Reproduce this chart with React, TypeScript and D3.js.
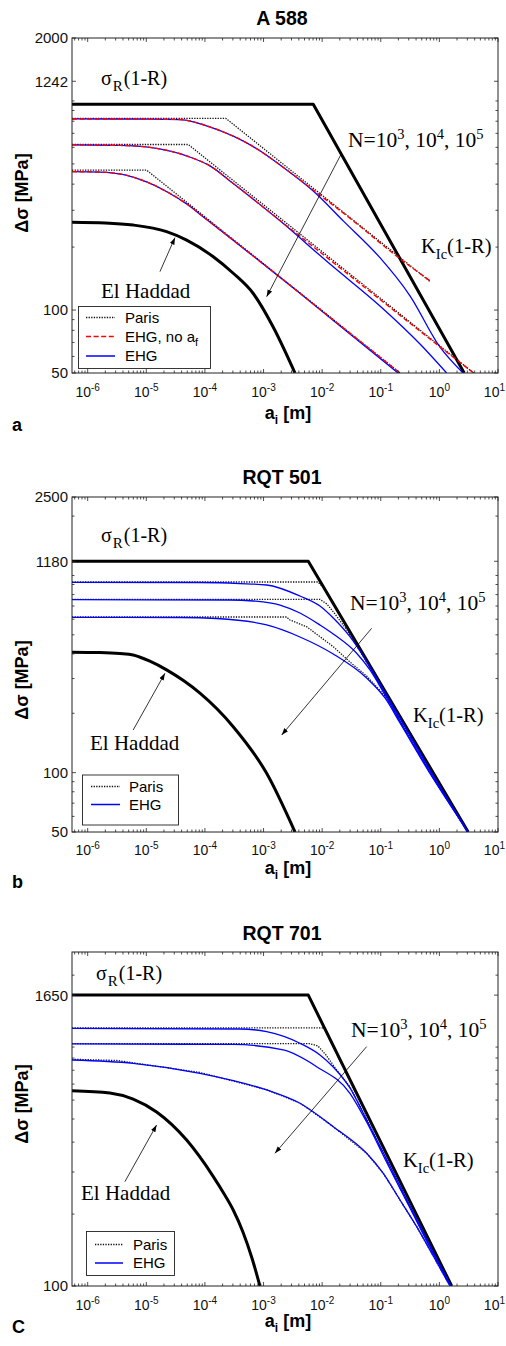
import React from 'react';
import * as d3 from 'd3';

type Pt = [number, number];

const SANS = '"Liberation Sans", Arial, Helvetica, sans-serif';
const SERIF = '"Liberation Serif", "Times New Roman", Times, serif';

// Initial crack size a_i [m], shared by the three panels
const crackSizeRange: [number, number] = [5.4e-7, 10];
const crackSizeDecades = [-6, -5, -4, -3, -2, -1, 0, 1];

// ---------------- A 588 ----------------
const a588StressTicks = [50, 100, 1242, 2000];
const a588Limit: Pt[] = [[5.4e-7, 965], [7.05e-3, 965], [2.65, 50]];
const a588ElHaddad: Pt[] = [[5.4e-7, 263], [2e-6, 261], [5.97e-6, 255], [2.22e-5, 237], [4.88e-5, 216], [1.39e-4, 180], [3.04e-4, 150], [6.67e-4, 120], [1.46e-3, 83], [3.44e-3, 50]];
const a588Paris1: Pt[] = [[5.4e-7, 825], [2.28e-4, 825], [0.692, 137]];
const a588Paris2: Pt[] = [[5.4e-7, 619], [5.19e-5, 619], [3.85, 50]];
const a588Paris3: Pt[] = [[5.4e-7, 467], [1.01e-5, 467], [0.213, 50]];
const a588NoAf1: Pt[] = [[5.4e-7, 820], [1.15e-5, 819], [3.74e-5, 815], [1.39e-4, 741], [6.67e-4, 605], [2.48e-3, 468], [7.05e-3, 375], [3.4e-2, 267], [0.187, 181], [0.692, 138]];
const a588NoAf2: Pt[] = [[5.4e-7, 617], [3.54e-6, 613], [1.15e-5, 600], [4.88e-5, 546], [1.22e-4, 489], [3.04e-4, 403], [1.91e-3, 268], [1.36e-2, 173.7], [9.69e-2, 112.4], [0.692, 72.7], [3.85, 50]];
const a588NoAf3: Pt[] = [[5.4e-7, 459], [1.61e-6, 457], [4.31e-6, 443], [1.01e-5, 410], [2.53e-5, 361], [4.88e-5, 322], [1.07e-4, 271], [5.86e-4, 186.6], [4.18e-3, 120.3], [2.98e-2, 77.5], [0.213, 50]];
const a588Ehg1: Pt[] = [[5.4e-7, 820], [1.15e-5, 819], [3.74e-5, 815], [1.39e-4, 741], [6.67e-4, 605], [2.48e-3, 468], [7.05e-3, 371], [2.29e-2, 267], [9.69e-2, 178], [0.315, 117], [1.02, 66.6], [2.53, 50]];
const a588Ehg2: Pt[] = [[5.4e-7, 617], [3.54e-6, 613], [1.15e-5, 600], [4.88e-5, 546], [1.22e-4, 489], [3.04e-4, 403], [1.91e-3, 267], [1.36e-2, 166], [9.69e-2, 104.6], [0.467, 68.8], [1.33, 50]];
const a588Ehg3: Pt[] = [[5.4e-7, 459], [1.61e-6, 457], [4.31e-6, 443], [1.01e-5, 410], [2.53e-5, 361], [4.88e-5, 322], [1.07e-4, 271], [5.86e-4, 186.6], [4.18e-3, 120.3], [2.98e-2, 76.8], [0.197, 50]];

// ---------------- RQT 501 ----------------
const rqt501StressTicks = [50, 100, 1180, 2500];
const rqt501Limit: Pt[] = [[5.4e-7, 1180], [5.8e-3, 1180], [3.1, 50]];
const rqt501ElHaddad: Pt[] = [[5.4e-7, 408], [1.61e-6, 406.5], [3.54e-6, 402], [5.97e-6, 395], [1.15e-5, 367.5], [2.22e-5, 332], [4.3e-5, 293], [8.22e-5, 253], [3.04e-4, 171], [1.13e-3, 99.2], [3.44e-3, 50]];
const rqt501Paris1: Pt[] = [[5.4e-7, 926.5], [8.47e-3, 926.5], [1.074e-2, 863.7], [1.47e-2, 737.8], [2.45e-2, 567.3], [4.42e-2, 421.3], [9.69e-2, 284.9], [0.467, 128.8], [3.08, 50]];
const rqt501Paris2: Pt[] = [[5.4e-7, 757], [9.17e-3, 757], [1.208e-2, 716.5], [1.654e-2, 637.5], [2.65e-2, 528.9], [4.42e-2, 413.9], [9.69e-2, 278.3], [0.467, 125.8], [3.08, 50]];
const rqt501Paris3: Pt[] = [[5.4e-7, 615.6], [2.48e-3, 615.6], [2.82e-3, 594.4], [5.44e-3, 549.8], [9.17e-3, 489.2], [1.547e-2, 435.3], [2.98e-2, 364], [5.74e-2, 309.1], [0.118, 244.8], [0.213, 180.7], [0.692, 99.6], [3.08, 50]];
const rqt501Ehg1: Pt[] = [[5.4e-7, 923], [8.22e-5, 921], [3.95e-4, 910], [1.13e-3, 894.5], [4.18e-3, 786.6], [9.17e-3, 699.9], [1.547e-2, 608.4], [2.98e-2, 489.2], [5.03e-2, 390.4], [9.69e-2, 281.6], [0.213, 189.3], [0.692, 103.1], [3.08, 50]];
const rqt501Ehg2: Pt[] = [[5.4e-7, 753.5], [2.67e-4, 751], [6.67e-4, 742], [1.91e-3, 708], [4.18e-3, 645], [9.17e-3, 560.8], [1.547e-2, 504.9], [3.88e-2, 402.9], [6.54e-2, 331.6], [0.118, 247.7], [0.213, 182.8], [0.692, 100.7], [3.08, 50]];
const rqt501Ehg3: Pt[] = [[5.4e-7, 613.4], [3.74e-5, 612], [1.58e-4, 604.9], [1.13e-3, 560.8], [4.18e-3, 487.5], [1.547e-2, 399.6], [5.74e-2, 301.9], [0.118, 239.1], [0.213, 178.6], [0.692, 99], [3.08, 50]];

// ---------------- RQT 701 ----------------
const rqt701StressTicks = [100, 1650];
const rqt701Limit: Pt[] = [[5.4e-7, 1650], [5.8e-3, 1650], [1.62, 100]];
const rqt701ElHaddad: Pt[] = [[5.4e-7, 657], [2.39e-6, 643], [5.97e-6, 606], [1.5e-5, 535], [4.88e-5, 408], [1.39e-4, 287], [2.03e-4, 247.5], [3.04e-4, 208], [4.45e-4, 168.3], [6.34e-4, 131], [8.68e-4, 100]];
const rqt701Paris1: Pt[] = [[5.4e-7, 1204], [1.074e-2, 1204], [1.36e-2, 1071], [2.98e-2, 721], [0.213, 272], [1.578, 100]];
const rqt701Paris2: Pt[] = [[5.4e-7, 1033], [6.19e-3, 1033], [8.47e-3, 1011], [1.16e-2, 927], [1.77e-2, 802], [2.98e-2, 681], [5.74e-2, 500], [0.213, 257], [1.578, 100]];
const rqt701Paris3: Pt[] = [[5.4e-7, 889], [3.15e-6, 879], [8.22e-5, 783], [1.13e-3, 663], [4.18e-3, 583], [1.547e-2, 464.3], [5.74e-2, 359.3], [0.1104, 296.3], [0.213, 229.1], [0.41, 177.1], [0.787, 133.5], [1.517, 100]];
const rqt701Ehg1: Pt[] = [[5.4e-7, 1198.6], [3.95e-4, 1190.6], [1.13e-3, 1160], [4.18e-3, 1037.3], [9.17e-3, 926.7], [1.547e-2, 825.4], [2.98e-2, 674.3], [5.74e-2, 495.2], [0.118, 350.1], [0.315, 216.3], [0.692, 147.1], [1.578, 100]];
const rqt701Ehg2: Pt[] = [[5.4e-7, 1030.4], [3.01e-4, 1025.4], [2.17e-3, 972.5], [8.05e-3, 827.8], [2.98e-2, 640.6], [5.74e-2, 485.8], [0.118, 340.1], [0.315, 212.1], [0.692, 145], [1.547, 100]];
const rqt701Ehg3: Pt[] = [[5.4e-7, 883], [5.97e-6, 855.4], [8.22e-5, 776.8], [1.13e-3, 661.4], [4.18e-3, 581.8], [1.547e-2, 464.3], [5.74e-2, 359.3], [0.1104, 296.3], [0.213, 229.1], [0.41, 177.1], [0.787, 133.5], [1.517, 100]];

// Annotation arrows: [tail, head] in (a_i, Δσ)
const a588Arrows: [Pt, Pt][] = [[[1.71e-5, 152.7], [3.08e-5, 222]], [[2.15e-2, 562.6], [1.13e-3, 115.9]]];
const rqt501Arrows: [Pt, Pt][] = [[[5.97e-6, 164.5], [2.08e-5, 319]], [[6.99e-2, 539.5], [2.04e-3, 155.2]]];
const rqt701Arrows: [Pt, Pt][] = [[[4.31e-6, 273.3], [1.5e-5, 472]], [[5.74e-2, 1004], [1.565e-3, 359.3]]];

type Kind = 'limit' | 'elHaddad' | 'paris' | 'noAf' | 'ehg';

const lineStyles: Record<Kind, { stroke: string; width: number; dash?: string; smooth: boolean }> = {
  limit: { stroke: '#000', width: 3, smooth: false },
  elHaddad: { stroke: '#000', width: 3, smooth: true },
  paris: { stroke: '#111', width: 1.3, dash: '1.3 1.3', smooth: false },
  ehg: { stroke: '#0000ff', width: 1.3, smooth: true },
  noAf: { stroke: '#ff0000', width: 1.4, dash: '5 2.6', smooth: true },
};

const drawOrder: Kind[] = ['limit', 'elHaddad', 'paris', 'ehg', 'noAf'];

interface PanelCfg {
  id: string;
  title: string;
  letter: string;
  top: number;
  bottom: number;
  yDomain: [number, number];
  yTicks: number[];
  series: { kind: Kind; data: Pt[] }[];
  arrows: [Pt, Pt][];
  legend: Kind[];
  layout: {
    titleY: number;
    yLabelY: number;
    letterY: number;
    sigmaR: [number, number];
    nLabel: [number, number];
    kic: [number, number];
    elh: [number, number];
    legendBox: [number, number, number, number];
    legendRows: number[];
    legendSample: [number, number];
    legendText: number;
    tickDy: number;
    xLabelDy: number;
  };
}

const PLOT_LEFT = 72;
const PLOT_RIGHT = 498;
const PAGE_W = 506;

const panels: PanelCfg[] = [
  {
    id: 'a', title: 'A 588', letter: 'a', top: 38, bottom: 373, yDomain: [50, 2000], yTicks: a588StressTicks,
    series: [
      { kind: 'limit', data: a588Limit }, { kind: 'elHaddad', data: a588ElHaddad },
      { kind: 'paris', data: a588Paris1 }, { kind: 'paris', data: a588Paris2 }, { kind: 'paris', data: a588Paris3 },
      { kind: 'ehg', data: a588Ehg1 }, { kind: 'ehg', data: a588Ehg2 }, { kind: 'ehg', data: a588Ehg3 },
      { kind: 'noAf', data: a588NoAf1 }, { kind: 'noAf', data: a588NoAf2 }, { kind: 'noAf', data: a588NoAf3 },
    ],
    arrows: a588Arrows,
    legend: ['paris', 'noAf', 'ehg'],
    layout: {
      titleY: 25, yLabelY: 193, letterY: 431, sigmaR: [101, 85], nLabel: [348, 147], kic: [421, 253], elh: [101, 298],
      legendBox: [78.5, 306.5, 132, 62], legendRows: [317.5, 336.5, 356], legendSample: [86, 115], legendText: 125,
      tickDy: 24, xLabelDy: 46,
    },
  },
  {
    id: 'b', title: 'RQT 501', letter: 'b', top: 497, bottom: 832, yDomain: [50, 2500], yTicks: rqt501StressTicks,
    series: [
      { kind: 'limit', data: rqt501Limit }, { kind: 'elHaddad', data: rqt501ElHaddad },
      { kind: 'paris', data: rqt501Paris1 }, { kind: 'paris', data: rqt501Paris2 }, { kind: 'paris', data: rqt501Paris3 },
      { kind: 'ehg', data: rqt501Ehg1 }, { kind: 'ehg', data: rqt501Ehg2 }, { kind: 'ehg', data: rqt501Ehg3 },
    ],
    arrows: rqt501Arrows,
    legend: ['paris', 'ehg'],
    layout: {
      titleY: 484, yLabelY: 680, letterY: 888, sigmaR: [101, 542], nLabel: [350, 610], kic: [413, 722], elh: [90, 750],
      legendBox: [82.5, 775, 96, 50], legendRows: [786.5, 804.5], legendSample: [91, 120], legendText: 129,
      tickDy: 23, xLabelDy: 42,
    },
  },
  {
    id: 'c', title: 'RQT 701', letter: 'C', top: 952, bottom: 1286, yDomain: [100, 2500], yTicks: rqt701StressTicks,
    series: [
      { kind: 'limit', data: rqt701Limit }, { kind: 'elHaddad', data: rqt701ElHaddad },
      { kind: 'paris', data: rqt701Paris1 }, { kind: 'paris', data: rqt701Paris2 }, { kind: 'paris', data: rqt701Paris3 },
      { kind: 'ehg', data: rqt701Ehg1 }, { kind: 'ehg', data: rqt701Ehg2 }, { kind: 'ehg', data: rqt701Ehg3 },
    ],
    arrows: rqt701Arrows,
    legend: ['paris', 'ehg'],
    layout: {
      titleY: 940, yLabelY: 1104, letterY: 1333, sigmaR: [96, 980], nLabel: [351, 1037], kic: [403, 1167], elh: [81, 1200],
      legendBox: [86.5, 1231.5, 88, 44], legendRows: [1244.5, 1263], legendSample: [95, 123], legendText: 133,
      tickDy: 24, xLabelDy: 41,
    },
  },
];

function minorLog(lo: number, hi: number, skip: number[]): number[] {
  const out: number[] = [];
  for (let k = Math.floor(Math.log10(lo)) - 1; k <= Math.ceil(Math.log10(hi)); k++) {
    for (let m = 1; m <= 9; m++) {
      const v = +(m * Math.pow(10, k)).toPrecision(6);
      if (v > lo * 1.0001 && v < hi * 0.9999 && !skip.some((s) => Math.abs(s - v) / v < 1e-6)) out.push(v);
    }
  }
  return out;
}

function LegendLabel({ kind }: { kind: Kind }) {
  if (kind === 'paris') return <>Paris</>;
  if (kind === 'ehg') return <>EHG</>;
  return (
    <>
      EHG, no a<tspan dy={4} fontSize={11}>f</tspan>
    </>
  );
}

function Panel({ cfg }: { cfg: PanelCfg }) {
  const { top, bottom, layout: L } = cfg;
  const x = d3.scaleLog().domain(crackSizeRange).range([PLOT_LEFT, PLOT_RIGHT]);
  const y = d3.scaleLog().domain(cfg.yDomain).range([bottom, top]);
  const clipId = `clip-${cfg.id}`;

  const pathFor = (kind: Kind, data: Pt[]) =>
    d3
      .line<Pt>()
      .x((d) => x(d[0]))
      .y((d) => y(d[1]))
      .curve(lineStyles[kind].smooth ? d3.curveMonotoneX : d3.curveLinear)(data) ?? '';

  const xMajor = crackSizeDecades.map((e) => Math.pow(10, e));
  const xMinor = minorLog(crackSizeRange[0], crackSizeRange[1], xMajor);
  const yMinor = minorLog(cfg.yDomain[0], cfg.yDomain[1], cfg.yTicks);

  const frame = '#222';
  const major = 4;
  const minor = 2.5;

  const ordered = drawOrder.flatMap((k) => cfg.series.filter((s) => s.kind === k));

  return (
    <g>
      <defs>
        <clipPath id={clipId}>
          <rect x={PLOT_LEFT} y={top} width={PLOT_RIGHT - PLOT_LEFT} height={bottom - top} />
        </clipPath>
      </defs>

      <text x={282} y={L.titleY} textAnchor="middle" fontFamily={SANS} fontWeight="bold" fontSize={19.5}>
        {cfg.title}
      </text>

      <g clipPath={`url(#${clipId})`} fill="none" strokeLinejoin="round">
        {ordered.map((s, i) => {
          const st = lineStyles[s.kind];
          return (
            <path
              key={i}
              d={pathFor(s.kind, s.data)}
              stroke={st.stroke}
              strokeWidth={st.width}
              strokeDasharray={st.dash}
            />
          );
        })}
      </g>

      {/* annotation arrows */}
      {cfg.arrows.map(([from, to], i) => (
        <line
          key={i}
          x1={x(from[0])}
          y1={y(from[1])}
          x2={x(to[0])}
          y2={y(to[1])}
          stroke="#000"
          strokeWidth={0.8}
          markerEnd="url(#arrowHead)"
        />
      ))}

      {/* axes frame and ticks */}
      <rect x={PLOT_LEFT} y={top} width={PLOT_RIGHT - PLOT_LEFT} height={bottom - top} fill="none" stroke={frame} strokeWidth={1} />
      <g stroke={frame} strokeWidth={0.8}>
        {xMajor.map((v) => (
          <g key={`xm${v}`}>
            <line x1={x(v)} x2={x(v)} y1={bottom} y2={bottom - major} />
            <line x1={x(v)} x2={x(v)} y1={top} y2={top + major} />
          </g>
        ))}
        {xMinor.map((v) => (
          <g key={`xn${v}`}>
            <line x1={x(v)} x2={x(v)} y1={bottom} y2={bottom - minor} />
            <line x1={x(v)} x2={x(v)} y1={top} y2={top + minor} />
          </g>
        ))}
        {cfg.yTicks.map((v) => (
          <g key={`ym${v}`}>
            <line x1={PLOT_LEFT} x2={PLOT_LEFT + major} y1={y(v)} y2={y(v)} />
            <line x1={PLOT_RIGHT} x2={PLOT_RIGHT - major} y1={y(v)} y2={y(v)} />
          </g>
        ))}
        {yMinor.map((v) => (
          <g key={`yn${v}`}>
            <line x1={PLOT_LEFT} x2={PLOT_LEFT + minor} y1={y(v)} y2={y(v)} />
            <line x1={PLOT_RIGHT} x2={PLOT_RIGHT - minor} y1={y(v)} y2={y(v)} />
          </g>
        ))}
      </g>

      {/* tick labels */}
      <g fontFamily={SANS} fill="#111">
        {cfg.yTicks.map((v) => (
          <text key={`yl${v}`} x={PLOT_LEFT - 4} y={y(v)} dy="0.36em" textAnchor="end" fontSize={15}>
            {v}
          </text>
        ))}
        {crackSizeDecades.map((e) => {
          const px = x(Math.pow(10, e));
          // the last decade label sits against the page edge
          const atEdge = px + 12 > PAGE_W;
          return (
            <text
              key={`xl${e}`}
              x={atEdge ? PAGE_W - 1 : px}
              y={bottom + L.tickDy}
              textAnchor={atEdge ? 'end' : 'middle'}
              fontSize={14}
            >
              10<tspan dy={-6.5} fontSize={10}>{e}</tspan>
            </text>
          );
        })}
      </g>

      {/* axis titles */}
      <text
        transform={`translate(28, ${L.yLabelY}) rotate(-90)`}
        textAnchor="middle"
        fontFamily={SANS}
        fontWeight="bold"
        fontSize={18}
      >
        Δσ [MPa]
      </text>
      <text x={288} y={bottom + L.xLabelDy} textAnchor="middle" fontFamily={SANS} fontWeight="bold" fontSize={18}>
        a<tspan dy={5} fontSize={12}>i</tspan>
        <tspan dy={-5}> [m]</tspan>
      </text>
      <text x={12} y={L.letterY} fontFamily={SANS} fontWeight="bold" fontSize={18}>
        {cfg.letter}
      </text>

      {/* curve annotations */}
      <g fontFamily={SERIF} fontSize={20} fill="#000">
        <text x={L.sigmaR[0]} y={L.sigmaR[1]}>
          σ<tspan dy={6} dx={1} fontSize={15}>R</tspan>
          <tspan dy={-6} dx={1}>(1-R)</tspan>
        </text>
        <text x={L.nLabel[0]} y={L.nLabel[1]} fontSize={21.5}>
          N=10<tspan dy={-8} fontSize={14.5}>3</tspan>
          <tspan dy={8}>, 10</tspan>
          <tspan dy={-8} fontSize={14.5}>4</tspan>
          <tspan dy={8}>, 10</tspan>
          <tspan dy={-8} fontSize={14.5}>5</tspan>
        </text>
        <text x={L.kic[0]} y={L.kic[1]} fontSize={20.5}>
          K<tspan dy={6} fontSize={14.5}>Ic</tspan>
          <tspan dy={-6}>(1-R)</tspan>
        </text>
        <text x={L.elh[0]} y={L.elh[1]} fontSize={21}>
          El Haddad
        </text>
      </g>

      {/* legend */}
      <g>
        <rect
          x={L.legendBox[0]}
          y={L.legendBox[1]}
          width={L.legendBox[2]}
          height={L.legendBox[3]}
          fill="#fff"
          stroke="#222"
          strokeWidth={0.9}
        />
        {cfg.legend.map((k, i) => {
          const st = lineStyles[k];
          const ry = L.legendRows[i];
          return (
            <g key={k}>
              <line
                x1={L.legendSample[0]}
                x2={L.legendSample[1]}
                y1={ry}
                y2={ry}
                stroke={st.stroke}
                strokeWidth={k === 'paris' ? 1.3 : 1.5}
                strokeDasharray={st.dash}
              />
              <text x={L.legendText} y={ry} dy="0.36em" fontFamily={SANS} fontSize={15}>
                <LegendLabel kind={k} />
              </text>
            </g>
          );
        })}
      </g>
    </g>
  );
}

export default function App() {
  return (
    <svg
      width={PAGE_W}
      height={1346}
      viewBox={`0 0 ${PAGE_W} 1346`}
      style={{ position: 'absolute', left: 0, top: 0, background: '#fff' }}
    >
      <defs>
        <marker
          id="arrowHead"
          viewBox="0 0 10 10"
          refX={10}
          refY={5}
          markerWidth={7}
          markerHeight={7}
          markerUnits="userSpaceOnUse"
          orient="auto"
        >
          <path d="M0,1.5 L10,5 L0,8.5 z" fill="#000" />
        </marker>
      </defs>
      <rect width={PAGE_W} height={1346} fill="#fff" />
      {panels.map((p) => (
        <Panel key={p.id} cfg={p} />
      ))}
    </svg>
  );
}
